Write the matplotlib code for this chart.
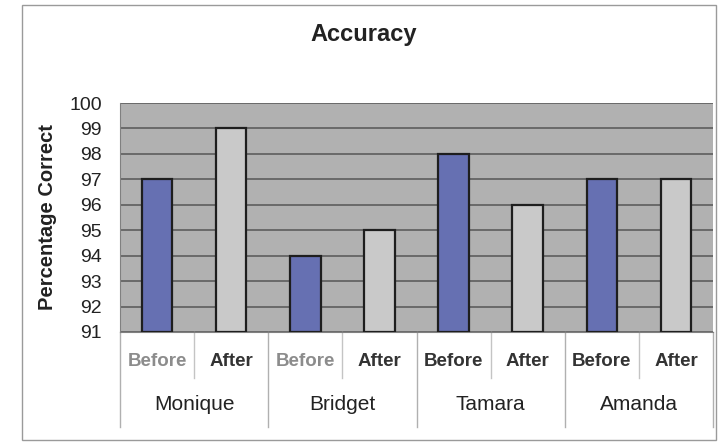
import matplotlib.pyplot as plt
import numpy as np
from matplotlib.patches import Rectangle
from matplotlib.transforms import blended_transform_factory

plt.rcParams["font.family"] = ["Liberation Sans", "DejaVu Sans"]

students = ["Monique", "Bridget", "Tamara", "Amanda"]
phases = ["Before", "After"]
before_scores = [97, 94, 98, 97]
after_scores = [99, 95, 96, 97]
y_ticks = [91, 92, 93, 94, 95, 96, 97, 98, 99, 100]

W, H = 719, 445
fig = plt.figure(figsize=(W / 100, H / 100), dpi=100)
fig.patch.set_facecolor("white")

# chart frame
fig.add_artist(Rectangle((22 / W, 5 / H), (716 - 22) / W, (440 - 5) / H,
                         transform=fig.transFigure, fill=False,
                         edgecolor="#9a9a9a", linewidth=1.0))

ax = fig.add_axes([120 / W, 1 - 332 / H, (713 - 120) / W, (332 - 103) / H])
ax.set_facecolor("#b1b1b1")

scores = []
for b, a in zip(before_scores, after_scores):
    scores += [b, a]
colors = ["#6670b2", "#c9c9c9"] * len(students)
x = np.arange(len(scores))

ax.set_ylim(y_ticks[0], y_ticks[-1])
ax.set_xlim(-0.5, len(scores) - 0.5)
ax.set_yticks(y_ticks)
ax.yaxis.grid(True, color="#5e5e5e", linewidth=1.2)
ax.set_axisbelow(True)
ax.bar(x, np.array(scores) - y_ticks[0], bottom=y_ticks[0], width=0.41,
       color=colors, edgecolor="#1e1e1e", linewidth=1.6, zorder=3)

ax.tick_params(axis="y", length=0, pad=13, labelsize=14, labelcolor="#222222")
ax.set_xticks([])
for side in ["top", "right"]:
    ax.spines[side].set_visible(False)
ax.spines["left"].set_color("#808080")
ax.spines["bottom"].set_color("#808080")

ax.set_ylabel("Percentage Correct", fontsize=14.5, fontweight="bold",
              color="#222222", labelpad=9)
fig.text(364 / W, 1 - 35 / H, "Accuracy", ha="center", va="center",
         fontsize=17, fontweight="bold", color="#222222")

# two-level category axis
trans = blended_transform_factory(ax.transData, ax.transAxes)
axis_h = (332 - 103)
for i, s in enumerate(scores):
    label = phases[i % 2]
    col = "#8c8c8c" if (label == "Before" and i < 4) else "#333333"
    ax.text(i, -(361 - 332) / axis_h, label, transform=trans, ha="center",
            va="center", fontsize=13.5, fontweight="bold", color=col)
for g, name in enumerate(students):
    ax.text(2 * g + 0.5, -(405 - 332) / axis_h, name, transform=trans,
            ha="center", va="center", fontsize=15, color="#222222")
for k in range(len(students) + 1):
    ax.plot([2 * k - 0.5] * 2, [0, -(427 - 332) / axis_h], transform=trans,
            color="#b0b0b0", linewidth=1.0, clip_on=False)
for k in range(len(students)):
    ax.plot([2 * k + 0.5] * 2, [0, -(378 - 332) / axis_h], transform=trans,
            color="#c4c4c4", linewidth=1.0, clip_on=False)

fig.savefig("out.png", dpi=100)
